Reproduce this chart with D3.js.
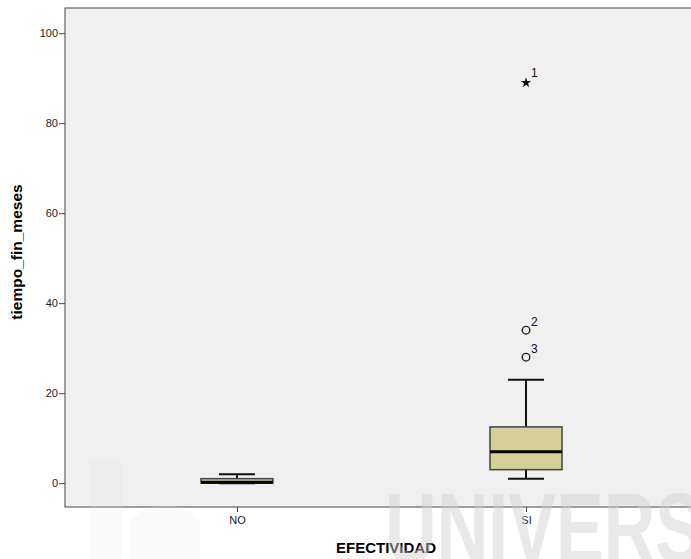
<!doctype html>
<html lang="es">
<head>
  <meta charset="utf-8">
  <script src="https://cdn.jsdelivr.net/npm/d3@7"></script>
  <style>
    body { margin: 0; background: #fff; font-family: "Liberation Sans", Arial, sans-serif; }
  </style>
</head>
<body>
  <svg id="chart" width="691" height="559"></svg>
  <script>
    // box plot stats
    var categories = ["NO", "SI"];
    var whiskLow  = [0, 1];
    var q1        = [0, 3];
    var median    = [0.2, 7];
    var q3        = [1, 12.5];
    var whiskHigh = [2, 23];
    // outliers: [category, value, case label, kind]
    var outliers = [
      ["SI", 89, "1", "extreme"],
      ["SI", 34, "2", "out"],
      ["SI", 28, "3", "out"]
    ];
    var yTicks = [0, 20, 40, 60, 80, 100];

    var svg = d3.select("#chart");
    var pLeft = 65, pRight = 698, pTop = 8, pBottom = 507;
    var boxW = 72;

    var x = d3.scalePoint().domain(categories).range([pLeft, pRight]).padding(0.595);
    var y = d3.scaleLinear().domain([-5.3, 105.6]).range([pBottom, pTop]);

    svg.append("rect").attr("x", pLeft).attr("y", pTop).attr("width", pRight - pLeft).attr("height", pBottom - pTop)
      .attr("fill", "#f0f0f0");

    // y axis
    var yAxis = svg.append("g").attr("transform", "translate(" + pLeft + ",0)")
      .call(d3.axisLeft(y).tickValues(yTicks).tickSize(6).tickPadding(1));
    yAxis.select(".domain").remove();
    yAxis.selectAll("line").attr("stroke", "#444");
    yAxis.selectAll("text").style("font-size", "11px").style("font-family", "Liberation Sans, Arial").attr("fill", "#222");

    // x axis
    var xAxis = svg.append("g").attr("transform", "translate(0," + pBottom + ")")
      .call(d3.axisBottom(x).tickSize(5).tickPadding(4));
    xAxis.select(".domain").remove();
    xAxis.selectAll("line").attr("stroke", "#444");
    xAxis.selectAll("text").style("font-size", "11px").style("font-family", "Liberation Sans, Arial").attr("fill", "#222");

    // axis titles
    svg.append("text").attr("x", 386).attr("y", 553).attr("text-anchor", "middle")
      .style("font-size", "15px").style("font-weight", "bold").text("EFECTIVIDAD");
    svg.append("text").attr("transform", "translate(22,252) rotate(-90)")
      .attr("text-anchor", "middle").style("font-size", "15.5px").style("font-weight", "bold").text("tiempo_fin_meses");

    // boxes
    var g = svg.append("g");
    categories.forEach(function(c, i) {
      var cx = x(c);
      var cap = boxW / 2;
      g.append("line").attr("x1", cx).attr("x2", cx).attr("y1", y(whiskHigh[i])).attr("y2", y(q3[i]))
        .attr("stroke", "#111").attr("stroke-width", 2);
      g.append("line").attr("x1", cx).attr("x2", cx).attr("y1", y(q1[i])).attr("y2", y(whiskLow[i]))
        .attr("stroke", "#111").attr("stroke-width", 2);
      g.append("line").attr("x1", cx - cap / 2).attr("x2", cx + cap / 2).attr("y1", y(whiskHigh[i])).attr("y2", y(whiskHigh[i]))
        .attr("stroke", "#111").attr("stroke-width", 2);
      g.append("line").attr("x1", cx - cap / 2).attr("x2", cx + cap / 2).attr("y1", y(whiskLow[i])).attr("y2", y(whiskLow[i]))
        .attr("stroke", "#111").attr("stroke-width", 2);
      g.append("rect").attr("x", cx - boxW / 2).attr("y", y(q3[i])).attr("width", boxW).attr("height", y(q1[i]) - y(q3[i]))
        .attr("fill", "#d5cf99").attr("stroke", "#444").attr("stroke-width", 1.5);
      g.append("line").attr("x1", cx - boxW / 2).attr("x2", cx + boxW / 2).attr("y1", y(median[i])).attr("y2", y(median[i]))
        .attr("stroke", "#000").attr("stroke-width", 3);
    });

    // outliers
    outliers.forEach(function(o) {
      var cx = x(o[0]);
      var cy = y(o[1]);
      if (o[3] === "extreme") {
        g.append("path").attr("d", d3.symbol().type(d3.symbolStar).size(34)).attr("transform", "translate(" + cx + "," + cy + ")")
          .attr("fill", "#111");
      } else {
        g.append("circle").attr("cx", cx).attr("cy", cy).attr("r", 3.8).attr("fill", "none").attr("stroke", "#222").attr("stroke-width", 1.4);
      }
      g.append("text").attr("x", cx + 5).attr("y", cy - (o[3] === "extreme" ? 6 : 4)).style("font-size", "12px").attr("fill", "#111").text(o[2]);
    });

    // plot frame
    svg.append("rect").attr("x", pLeft).attr("y", pTop).attr("width", pRight - pLeft).attr("height", pBottom - pTop)
      .attr("fill", "none").attr("stroke", "#444").attr("stroke-width", 1);

    // faint scanned watermark laid over everything
    var wm = svg.append("g").attr("pointer-events", "none");
    wm.append("text").attr("x", 385).attr("y", 562)
      .style("font-size", "98px").style("font-weight", "bold")
      .attr("textLength", 318).attr("lengthAdjust", "spacingAndGlyphs")
      .attr("fill", "#cfcfcf").attr("opacity", 0.45).text("UNIVERS");
    wm.append("rect").attr("x", 90).attr("y", 462).attr("width", 32).attr("height", 97).attr("fill", "#e2e2e2").attr("opacity", 0.18);
    wm.append("path").attr("d", "M130,559 L130,520 Q165,490 200,520 L200,559 Z").attr("fill", "#e2e2e2").attr("opacity", 0.18);
  </script>
</body>
</html>
